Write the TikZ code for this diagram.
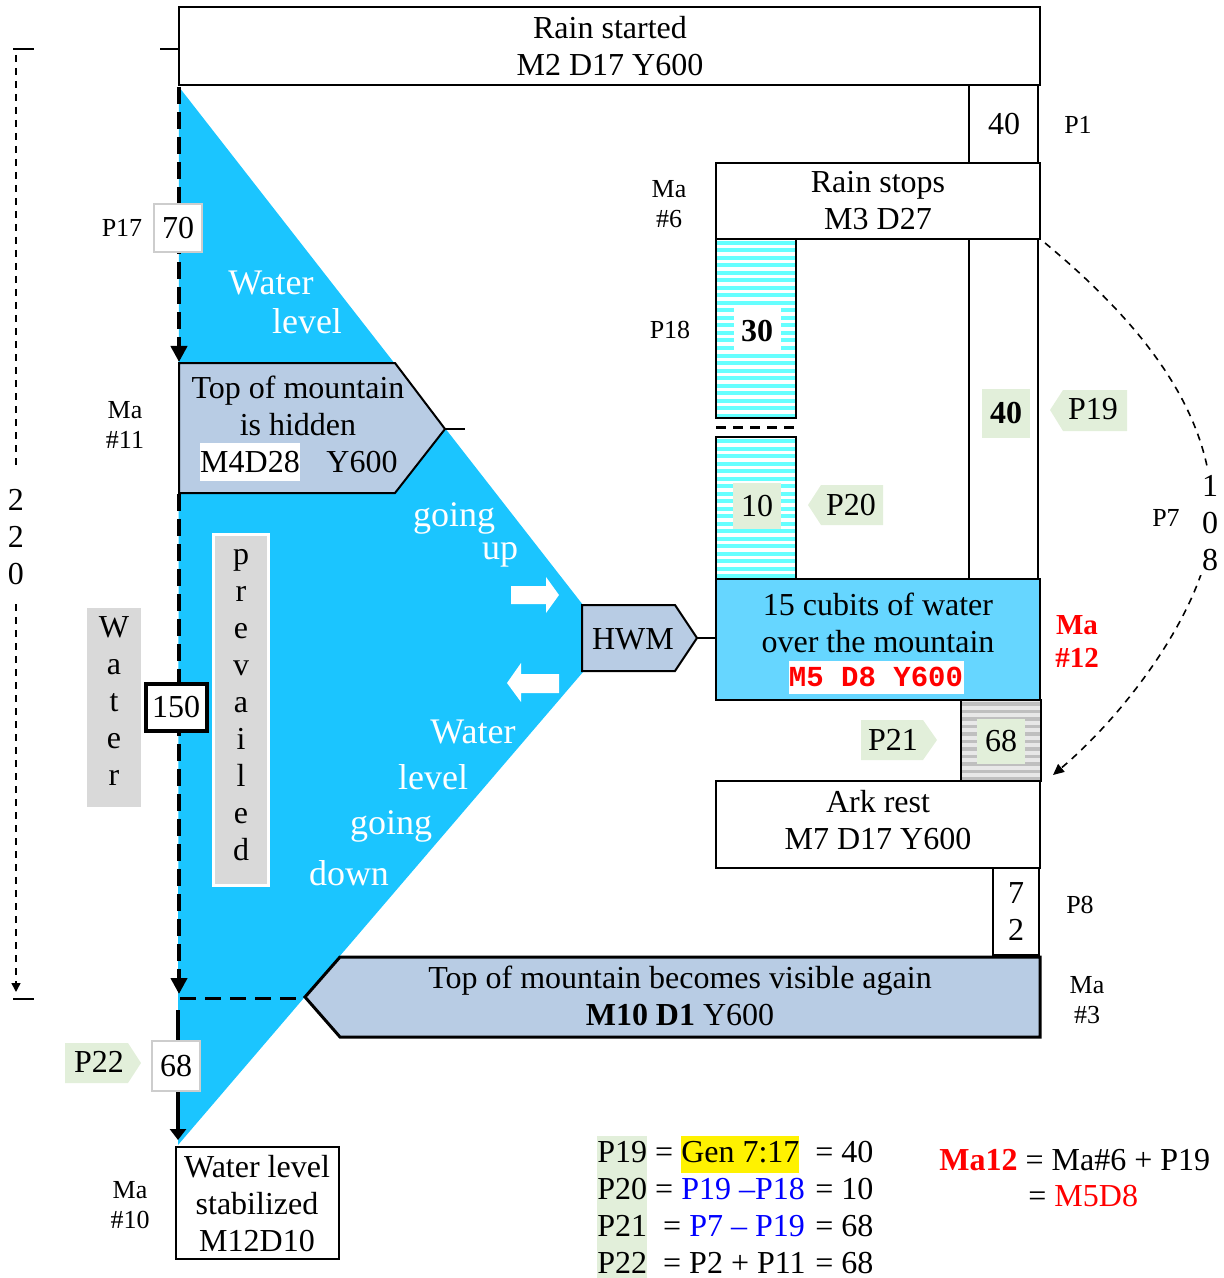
\documentclass[tikz,border=0pt]{standalone}
\usepackage{fontspec}
\setmainfont{Liberation Serif}
\setmonofont{Liberation Mono}
\usetikzlibrary{arrows.meta}
\definecolor{water}{RGB}{27,197,255}
\definecolor{lblue}{RGB}{102,214,255}
\definecolor{hexfill}{RGB}{184,204,228}
\definecolor{lgreen}{RGB}{226,239,218}
\definecolor{lgrey}{RGB}{217,217,217}
\definecolor{stripecyan}{RGB}{102,255,255}
\definecolor{stripegrey}{RGB}{191,191,191}
\definecolor{stripegreybg}{RGB}{232,232,232}
\definecolor{boxgrey}{RGB}{205,205,205}
\newcommand\fsm{\fontsize{16}{18.5}\selectfont}
\newcommand\fss{\fontsize{13}{15}\selectfont}
\newcommand\fsw{\fontsize{18}{20}\selectfont}
\newcommand\hbg[2]{{\setlength{\fboxsep}{0pt}\colorbox{#1}{\strut #2}}}
\tikzset{
  txt/.style={font=\fsm, inner sep=0pt, align=center},
  eqtxt/.style={font=\fsm, inner sep=0pt},
  lbl/.style={font=\fss, inner sep=0pt, align=center},
  wtxt/.style={font=\fsw, inner sep=0pt, text=white},
  bx/.style={draw=black, line width=1pt},
  thickdash/.style={line width=2.2pt, dash pattern=on 8.5pt off 4pt},
  middash/.style={line width=1.5pt, dash pattern=on 8pt off 4.5pt},
  thindash/.style={line width=0.8pt, dash pattern=on 3.5pt off 3pt},
  numbox/.style={draw=boxgrey, line width=0.8pt, fill=white, inner sep=0pt, font=\fsm},
  bigtip/.style={-{Triangle[length=8pt,width=8pt]}},
  smalltip/.style={-{Triangle[length=4.5pt,width=4.5pt]}},
}
\begin{document}
\begin{tikzpicture}[x=0.5pt,y=-0.5pt]
\useasboundingbox (0,0) rectangle (1224,1278);
% water body
\fill[water] (179,87) -- (583,605) -- (583,672) -- (178,1145) -- cycle;

% top box
\draw[bx] (179,7) rectangle (1040,85);
\node[txt] (rainstart) at (610,46) {Rain started\\M2 D17 Y600};
\coordinate (tickA) at (160,49);
\coordinate (tickB) at (179,49);
\draw[bx] (tickA) -- (tickB);

% P1
\draw[bx] (969,85) rectangle (1038,163);
\node[txt] (p1val) at (1004,124) {40};
\node[lbl] (p1) at (1078,125) {P1};

% Rain stops
\draw[bx] (716,163) rectangle (1040,239);
\node[txt] (rainstop) at (878,201) {Rain stops\\M3 D27};
\node[lbl] (ma6) at (669,204) {Ma\\\#6};

% upper striped column
\fill[white] (716,239) rectangle (796,418);
\foreach \y in {241,248.5,...,414} \fill[stripecyan] (716,\y) rectangle (796,{\y+4});
\draw[bx] (716,239) rectangle (796,418);
\node[txt, fill=white, minimum width=23.5pt, minimum height=22.5pt, font=\fsm\bfseries] (p18val) at (757,331) {30};
\node[lbl] (p18) at (670,330) {P18};
\coordinate (gapL) at (716,427);
\coordinate (gapR) at (796,427);
\draw[line width=1.5pt, dash pattern=on 5pt off 3.5pt] (gapL) -- (gapR);

% lower striped column
\fill[white] (716,437) rectangle (796,579);
\foreach \y in {439,446.5,...,575} \fill[stripecyan] (716,\y) rectangle (796,{\y+4});
\draw[bx] (716,437) rectangle (796,579);
\node[txt, fill=lgreen, minimum width=24pt, minimum height=23pt] (p20val) at (757,506) {10};

% right column
\draw[bx] (969,239) rectangle (1038,579);
\node[txt, fill=lgreen, minimum width=24pt, minimum height=24.5pt, font=\fsm\bfseries] (p19val) at (1006,413) {40};

% P19 tag
\fill[lgreen] (1050,410) -- (1063,390) -- (1127,390) -- (1127,431) -- (1063,431) -- cycle;
\node[txt] (p19) at (1093,409) {P19};
% P20 tag
\fill[lgreen] (808,505) -- (821,485) -- (883,485) -- (883,525) -- (821,525) -- cycle;
\node[txt] (p20) at (851,505) {P20};

% 15 cubits
\filldraw[fill=lblue, bx] (716,579) rectangle (1040,700);
\node[txt] (cubits) at (878,623) {15 cubits of water\\over the mountain};
\node[fill=white, inner sep=0pt, minimum width=87.5pt, minimum height=16.5pt, font=\fontsize{14.5}{16}\selectfont\ttfamily\bfseries, text=red] (hwmdate) at (876,677) {M5 D8 Y600};
\node[font=\fontsize{14.5}{16.5}\selectfont\bfseries, text=red, inner sep=0pt, align=center] (ma12) at (1077,641) {Ma\\\#12};

% HWM
\filldraw[fill=hexfill, bx] (582,605) -- (675,605) -- (697,638) -- (675,671) -- (582,671) -- cycle;
\node[txt] (hwm) at (633,639) {HWM};
\coordinate (hwmtip) at (697,638);
\coordinate (cubitsW) at (716,638);
\draw[bx] (hwmtip) -- (cubitsW);

% 68 grey striped
\fill[stripegreybg] (961,700) rectangle (1041,781);
\foreach \y in {702,709.5,...,777} \fill[stripegrey] (961,\y) rectangle (1041,{\y+3.5});
\draw[bx] (961,700) rectangle (1041,781);
\node[txt, fill=lgreen, minimum width=24pt, minimum height=22.5pt] (p21val) at (1001,741) {68};
\fill[lgreen] (861,720) -- (923,720) -- (937,740) -- (923,760) -- (861,760) -- cycle;
\node[txt] (p21) at (893,740) {P21};

% Ark rest
\draw[bx] (716,781) rectangle (1040,868);
\node[txt] (ark) at (878,820) {Ark rest\\M7 D17 Y600};

% 72
\draw[bx] (993,868) rectangle (1039,955);
\node[txt] (p8val) at (1016,912) {7\\2};
\node[lbl] (p8) at (1080,905) {P8};

% bottom hexagon
\filldraw[fill=hexfill, draw=black, line width=1.5pt] (305,997) -- (340,957) -- (1040,957) -- (1040,1037) -- (340,1037) -- cycle;
\node[txt] (visible) at (680,996) {Top of mountain becomes visible again\\\textbf{M10 D1} Y600};
\node[lbl] (ma3) at (1087,1000) {Ma\\\#3};

% top-of-mountain hidden hexagon
\filldraw[fill=hexfill, bx] (179,363) -- (395,363) -- (445,429) -- (395,493) -- (179,493) -- cycle;
\coordinate (hidtip) at (445,429);
\coordinate (hidtick) at (465,429);
\draw[bx] (hidtip) -- (hidtick);
\node[txt] (hidden) at (298,406) {Top of mountain\\is hidden};
\node[txt, fill=white, minimum width=49.5pt, minimum height=19pt] (hiddendate) at (250,462) {M4D28};
\node[txt] (hiddenyear) at (362,462) {Y600};
\node[lbl] (ma11) at (125,425) {Ma\\\#11};

% water texts
\node[wtxt] (wl1) at (271,283) {Water};
\node[wtxt] (wl2) at (307,321) {level};
\node[wtxt] (gu1) at (454,518) {going};
\node[wtxt] (gu2) at (500,555) {up};
\node[wtxt] (wd1) at (473,732) {Water};
\node[wtxt] (wd2) at (433,777) {level};
\node[wtxt] (wd3) at (391,826) {going};
\node[wtxt] (wd4) at (349,873) {down};

% white arrows
\fill[white] (511,586) -- (546,586) -- (546,577) -- (559,595) -- (546,613) -- (546,604) -- (511,604) -- cycle;
\fill[white] (559,674) -- (521,674) -- (521,663) -- (507,683) -- (521,702) -- (521,693) -- (559,693) -- cycle;

% left main arrows
\coordinate (tritop) at (179,87);
\coordinate (hidtop) at (179,362);
\draw[thickdash, bigtip] (tritop) -- (hidtop);
\coordinate (hidbot) at (179,494);
\coordinate (visL) at (179,994);
\draw[thickdash, bigtip] (hidbot) -- (visL);
\coordinate (hzA) at (180,998);
\coordinate (hzB) at (302,998);
\draw[middash] (hzA) -- (hzB);
\coordinate (solidA) at (178,1010);
\coordinate (stabtop) at (178,1140);
\draw[line width=1.6pt, -{Triangle[length=5.5pt,width=8pt]}] (solidA) -- (stabtop);

% P17
\node[numbox, minimum width=24pt, minimum height=24pt] (p17val) at (178,228) {70};
\node[lbl] (p17) at (122,228) {P17};

% Water / 150 / prevailed
\fill[lgrey] (87,608) rectangle (141,807);
\node[txt] (waterv) at (114,701) {W\\a\\t\\e\\r};
\node[draw=black, line width=2pt, fill=white, inner sep=0pt, minimum width=30.5pt, minimum height=23.5pt, font=\fsm] (p150) at (176,707) {150};
\filldraw[fill=lgrey, draw=white, line width=1.5pt] (213.5,534.5) rectangle (268.5,885.5);
\node[txt] (prevailed) at (241,705) {p\\r\\e\\v\\a\\i\\l\\e\\d};

% 220 dimension line
\coordinate (dimTa) at (13,49);
\coordinate (dimTb) at (34,49);
\coordinate (dimBa) at (13,999);
\coordinate (dimBb) at (34,999);
\draw[line width=0.9pt] (dimTa) -- (dimTb);
\draw[line width=0.9pt] (dimBa) -- (dimBb);
\node[txt] (d220) at (16,537) {2\\2\\0};
\coordinate (dimA) at (16,55);
\coordinate (dimA2) at (16,470);
\coordinate (dimB) at (16,604);
\coordinate (dimB2) at (16,992);
\draw[thindash] (dimA) -- (dimA2);
\draw[thindash, smalltip] (dimB) -- (dimB2);

% P7 curve
\coordinate (rsNE) at (1045,243);
\coordinate (arkNE) at (1053,775);
\draw[thindash, -{Triangle[length=5.5pt,width=5pt]}] (rsNE) .. controls (1150,330) and (1215,420) .. (1212,520) .. controls (1210,600) and (1130,710) .. (arkNE);
\node[txt, fill=white, inner sep=2pt] (d108) at (1210,523) {1\\0\\8};
\node[lbl] (p7) at (1166,518) {P7};

% P22
\fill[lgreen] (65,1043) -- (128,1043) -- (141,1063) -- (128,1083) -- (65,1083) -- cycle;
\node[txt] (p22) at (99,1062) {P22};
\node[numbox, minimum width=24pt, minimum height=25pt] (p22val) at (176,1066) {68};

% stabilized
\draw[bx] (176,1147) rectangle (339,1259);
\node[txt] (stab) at (257,1204) {Water level\\stabilized\\M12D10};
\node[lbl] (ma10) at (130,1205) {Ma\\\#10};

% equations
\node[eqtxt, anchor=base west] (eq1) at (597,1162) {\hbg{lgreen}{P19} = \hbg{yellow}{Gen 7:17}};
\node[eqtxt, anchor=base west] (eq2) at (597,1199) {\hbg{lgreen}{P20} = \textcolor{blue}{P19 –P18}};
\node[eqtxt, anchor=base west] (eq3) at (597,1236) {\hbg{lgreen}{P21}\ \ = \textcolor{blue}{P7 – P19}};
\node[eqtxt, anchor=base west] (eq4) at (597,1273) {\hbg{lgreen}{P22}\ \ = P2 + P11};
\node[eqtxt, anchor=base west] (r1) at (815,1162) {= 40};
\node[eqtxt, anchor=base west] (r2) at (815,1199) {= 10};
\node[eqtxt, anchor=base west] (r3) at (815,1236) {= 68};
\node[eqtxt, anchor=base west] (r4) at (815,1273) {= 68};
\node[eqtxt, anchor=base west] (ma12eq) at (939,1170) {\textcolor{red}{\bfseries Ma12} = Ma\#6 + P19};
\node[eqtxt, anchor=base west] (ma12eq2) at (1028,1206) {= \textcolor{red}{M5D8}};
\end{tikzpicture}
\end{document}
